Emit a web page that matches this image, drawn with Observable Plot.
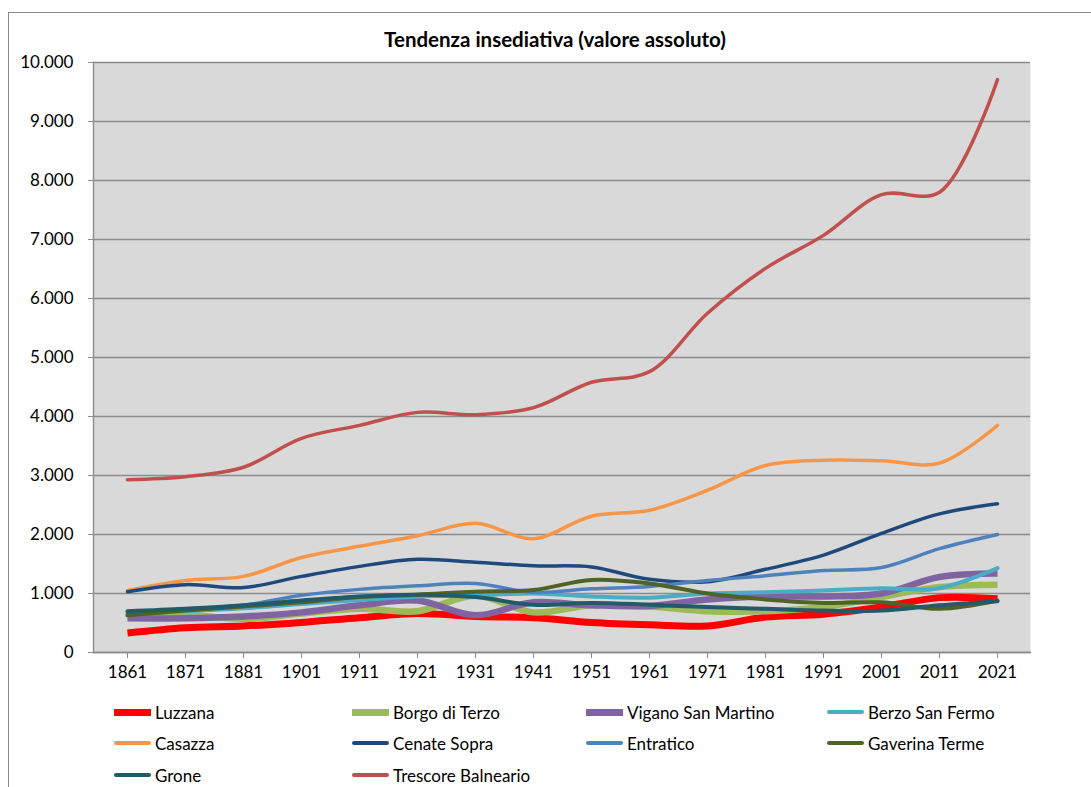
<!DOCTYPE html>
<html>
<head>
<meta charset="utf-8">
<script src="https://cdn.jsdelivr.net/npm/d3@7"></script>
<script src="https://cdn.jsdelivr.net/npm/@observablehq/plot@0.6"></script>
<style>
  html, body { margin: 0; padding: 0; background: #fff; }
  body { width: 1091px; height: 787px; position: relative; overflow: hidden; font-family: Lato, "Open Sans", sans-serif; }
  #frame { position: absolute; left: 8px; top: 12px; width: 1100px; height: 800px; border-left: 1.5px solid #8a8a8a; border-top: 1.5px solid #8a8a8a; }
  #chart { position: absolute; left: 0; top: 0; }
  #title { position: absolute; left: 0; width: 1110px; top: 27px; text-align: center; font-weight: bold; font-size: 20.5px; color: #000; }
  .leg { position: absolute; display: flex; align-items: center; font-size: 17px; color: #000; white-space: nowrap; }
  .sw { width: 37px; margin-right: 4px; }
</style>
</head>
<body>
<div id="frame"></div>
<div id="chart"></div>
<div id="title">Tendenza insediativa (valore assoluto)</div>
<div id="legend"></div>
<script>
const years = ["1861","1871","1881","1901","1911","1921","1931","1941","1951","1961","1971","1981","1991","2001","2011","2021"];
const yTicks = [0,1000,2000,3000,4000,5000,6000,7000,8000,9000,10000];

const luzzana   = [330, 420, 450, 510, 590, 660, 610, 590, 510, 470, 450, 600, 650, 770, 930, 910];
const borgo     = [620, 640, 570, 660, 740, 700, 960, 680, 800, 780, 700, 700, 770, 940, 1110, 1150];
const vigano    = [580, 580, 610, 680, 800, 880, 630, 850, 800, 790, 900, 950, 950, 1000, 1280, 1340];
const berzo     = [660, 700, 750, 820, 890, 950, 970, 1000, 950, 930, 1000, 1020, 1050, 1090, 1090, 1430];
const casazza   = [1050, 1220, 1290, 1610, 1800, 1980, 2190, 1930, 2310, 2410, 2750, 3170, 3260, 3250, 3210, 3850];
const cenate    = [1030, 1150, 1100, 1290, 1460, 1580, 1530, 1470, 1450, 1240, 1200, 1410, 1650, 2020, 2350, 2520];
const entratico = [680, 740, 800, 970, 1070, 1130, 1170, 1020, 1080, 1120, 1220, 1300, 1390, 1440, 1760, 2000];
const gaverina  = [630, 710, 780, 850, 940, 980, 1030, 1060, 1230, 1170, 1000, 900, 840, 850, 740, 880];
const grone     = [700, 740, 800, 880, 950, 980, 940, 810, 840, 810, 770, 740, 710, 710, 800, 870];
const trescore  = [2930, 2980, 3140, 3630, 3850, 4070, 4030, 4150, 4580, 4760, 5750, 6510, 7070, 7760, 7800, 9710];

const seriesNames  = ["Luzzana","Borgo di Terzo","Vigano San Martino","Berzo San Fermo","Casazza","Cenate Sopra","Entratico","Gaverina Terme","Grone","Trescore Balneario"];
const seriesValues = [luzzana, borgo, vigano, berzo, casazza, cenate, entratico, gaverina, grone, trescore];
const seriesColors = ["#ff0000","#9bbb59","#8064a2","#4bacc6","#f79646","#1f497d","#4f81bd","#4f6228","#215a68","#c0504d"];
const seriesWidths = [7, 6.5, 6.5, 4, 3.5, 3.5, 3.5, 4, 4, 3.5];
const seriesCaps   = ["butt","butt","butt","round","round","round","round","round","round","round"];

const fmt = d3.formatLocale({decimal: ",", thousands: ".", grouping: [3], currency: ["", ""]}).format(",d");

const lineMarks = seriesNames.map((name, s) => {
  const data = years.map((yr, i) => ({year: yr, value: seriesValues[s][i]}));
  return Plot.line(data, {
    x: "year", y: "value", curve: "catmull-rom",
    stroke: seriesColors[s], strokeWidth: seriesWidths[s],
    strokeLinecap: seriesCaps[s], strokeLinejoin: "round"
  });
});

const chart = Plot.plot({
  width: 1091, height: 700,
  marginLeft: 93, marginRight: 61, marginTop: 62, marginBottom: 48,
  style: {fontFamily: "Lato, 'Open Sans', sans-serif", fontSize: "17px", background: "transparent", color: "#000", overflow: "visible"},
  x: {type: "point", domain: years, padding: 0.5, label: null},
  y: {domain: [0, 10000], label: null},
  marks: [
    Plot.frame({fill: "#d9d9d9", stroke: null}),
    Plot.gridY(yTicks, {stroke: "#8c8c8c", strokeOpacity: 1, strokeWidth: 1.4}),
    Plot.frame({anchor: "left", stroke: "#8c8c8c", strokeWidth: 1.4}),
    Plot.frame({anchor: "bottom", stroke: "#8c8c8c", strokeWidth: 1.4}),
    Plot.axisY(yTicks, {tickFormat: fmt, tickSize: 5, tickPadding: 15, stroke: "#8c8c8c", fill: "#000", label: null}),
    Plot.axisX({tickSize: 6, tickPadding: 7, stroke: "#8c8c8c", fill: "#000", label: null}),
    ...lineMarks
  ]
});
document.getElementById("chart").appendChild(chart);

// legend
const colX = [114, 352, 586, 827];
const rowY = [712, 743, 775];
const legend = document.getElementById("legend");
seriesNames.forEach((name, s) => {
  const col = s % 4, row = Math.floor(s / 4);
  const item = document.createElement("div");
  item.className = "leg";
  item.style.left = colX[col] + "px";
  item.style.top = (rowY[row] - 11) + "px";
  item.style.height = "22px";
  const sw = document.createElement("div");
  sw.className = "sw";
  const thick = seriesCaps[s] === "butt";
  sw.style.height = (thick ? 7 : 4.5) + "px";
  sw.style.background = seriesColors[s];
  sw.style.borderRadius = thick ? "0" : "3px";
  const lab = document.createElement("span");
  lab.textContent = name;
  item.appendChild(sw);
  item.appendChild(lab);
  legend.appendChild(item);
});
</script>
</body>
</html>
